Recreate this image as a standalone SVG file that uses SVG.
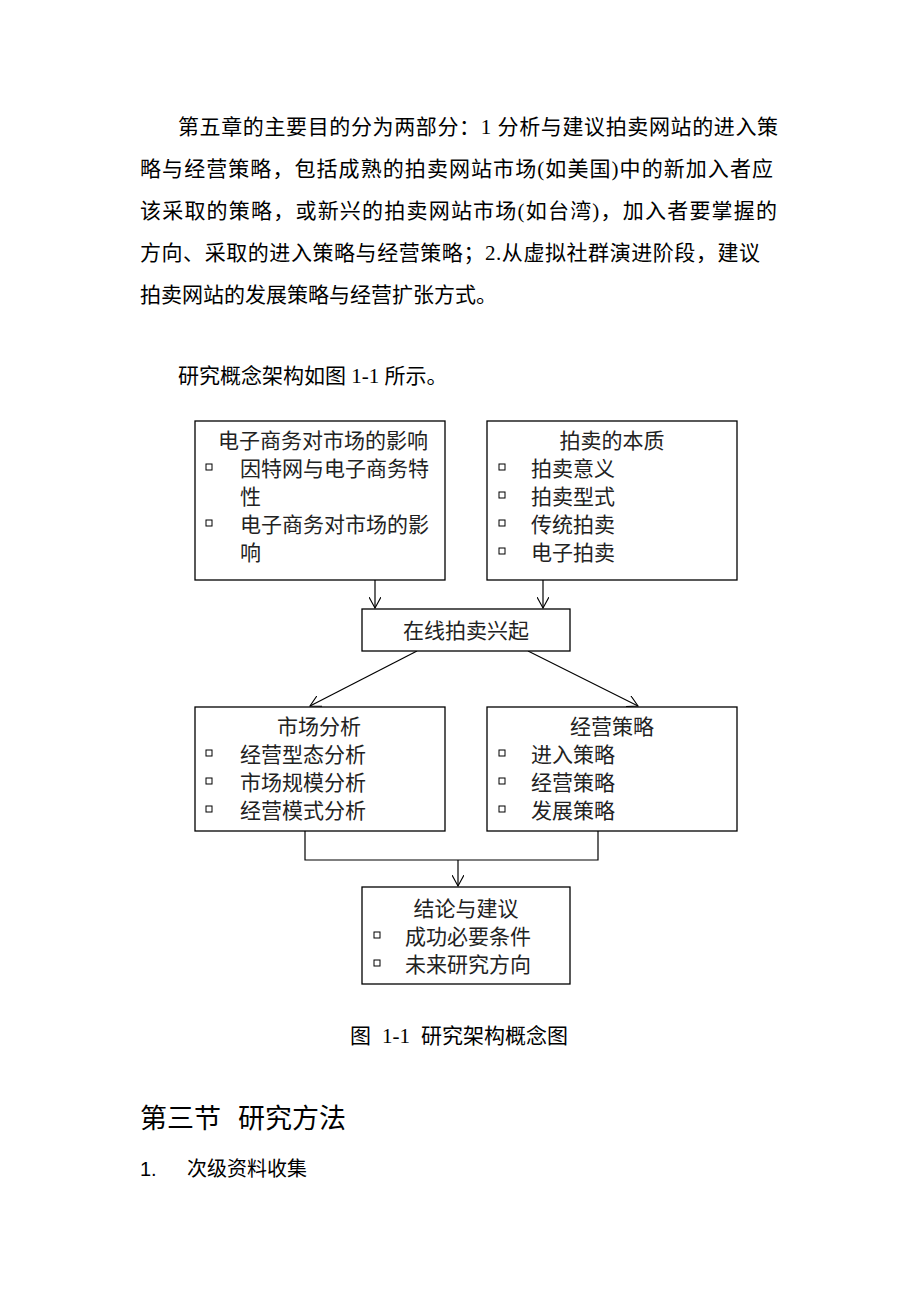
<svg xmlns="http://www.w3.org/2000/svg" width="920" height="1302" viewBox="0 0 920 1302">
<style>
.body{font-family:"Liberation Serif","Noto Sans CJK SC",serif;font-size:21px;fill:#000}
.bx{font-family:"Noto Sans CJK SC","Liberation Sans",sans-serif;font-size:21px;fill:#222}
.box{fill:#fff;stroke:#000;stroke-width:1.3}
.bul{fill:none;stroke:#000;stroke-width:1}
.ln{fill:none;stroke:#000;stroke-width:1.2}
.h{font-family:"Liberation Sans","Noto Sans CJK SC",sans-serif;fill:#000}
</style>
<defs>
<marker id="ar" viewBox="0 0 12 12" refX="11" refY="6" markerWidth="12" markerHeight="12" markerUnits="userSpaceOnUse" orient="auto">
<path d="M0,0 L11,6 L0,12" fill="none" stroke="#000" stroke-width="1.1"/>
</marker>
</defs>
<rect width="920" height="1302" fill="#fff"/>
<g id="paragraph">
<text class="body" x="178" y="134" textLength="600" lengthAdjust="spacing">第五章的主要目的分为两部分：1 分析与建议拍卖网站的进入策</text>
<text class="body" x="140" y="176" textLength="633" lengthAdjust="spacing">略与经营策略，包括成熟的拍卖网站市场(如美国)中的新加入者应</text>
<text class="body" x="140" y="218" textLength="637" lengthAdjust="spacing">该采取的策略，或新兴的拍卖网站市场(如台湾)，加入者要掌握的</text>
<text class="body" x="140" y="260" textLength="620" lengthAdjust="spacing">方向、采取的进入策略与经营策略；2.从虚拟社群演进阶段，建议</text>
<text class="body" x="140" y="302">拍卖网站的发展策略与经营扩张方式。</text>
<text class="body" x="178" y="383">研究概念架构如图 1-1 所示。</text>
</g>
<g id="connectors">
<line class="ln" x1="375" y1="580" x2="375" y2="608" marker-end="url(#ar)"/>
<line class="ln" x1="543" y1="580" x2="543" y2="608" marker-end="url(#ar)"/>
<line class="ln" x1="417" y1="651" x2="310" y2="706" marker-end="url(#ar)"/>
<line class="ln" x1="528" y1="651" x2="638" y2="706" marker-end="url(#ar)"/>
<polyline class="ln" points="305,831 305,860 598,860 598,831"/>
<line class="ln" x1="458" y1="860" x2="458" y2="886" marker-end="url(#ar)"/>
</g>
<g id="node-ecommerce">
<rect class="box" x="195" y="421" width="250" height="159"/>
<text class="bx" x="323" y="448" text-anchor="middle">电子商务对市场的影响</text>
<rect class="bul" x="206" y="464" width="6" height="6"/>
<text class="bx" x="240" y="476">因特网与电子商务特</text>
<text class="bx" x="240" y="504">性</text>
<rect class="bul" x="206" y="520" width="6" height="6"/>
<text class="bx" x="240" y="532">电子商务对市场的影</text>
<text class="bx" x="240" y="560">响</text>
</g>
<g id="node-auction">
<rect class="box" x="487" y="421" width="250" height="159"/>
<text class="bx" x="612" y="448" text-anchor="middle">拍卖的本质</text>
<rect class="bul" x="499" y="464" width="6" height="6"/>
<text class="bx" x="531" y="476">拍卖意义</text>
<rect class="bul" x="499" y="492" width="6" height="6"/>
<text class="bx" x="531" y="504">拍卖型式</text>
<rect class="bul" x="499" y="520" width="6" height="6"/>
<text class="bx" x="531" y="532">传统拍卖</text>
<rect class="bul" x="499" y="548" width="6" height="6"/>
<text class="bx" x="531" y="560">电子拍卖</text>
</g>
<g id="node-online">
<rect class="box" x="362" y="609" width="208" height="42"/>
<text class="bx" x="466" y="638" text-anchor="middle">在线拍卖兴起</text>
</g>
<g id="node-market">
<rect class="box" x="195" y="707" width="250" height="124"/>
<text class="bx" x="319" y="734" text-anchor="middle">市场分析</text>
<rect class="bul" x="206" y="750" width="6" height="6"/>
<text class="bx" x="240" y="762">经营型态分析</text>
<rect class="bul" x="206" y="778" width="6" height="6"/>
<text class="bx" x="240" y="790">市场规模分析</text>
<rect class="bul" x="206" y="806" width="6" height="6"/>
<text class="bx" x="240" y="818">经营模式分析</text>
</g>
<g id="node-strategy">
<rect class="box" x="487" y="707" width="250" height="124"/>
<text class="bx" x="612" y="734" text-anchor="middle">经营策略</text>
<rect class="bul" x="499" y="750" width="6" height="6"/>
<text class="bx" x="531" y="762">进入策略</text>
<rect class="bul" x="499" y="778" width="6" height="6"/>
<text class="bx" x="531" y="790">经营策略</text>
<rect class="bul" x="499" y="806" width="6" height="6"/>
<text class="bx" x="531" y="818">发展策略</text>
</g>
<g id="node-conclusion">
<rect class="box" x="362" y="887" width="208" height="97"/>
<text class="bx" x="466" y="916" text-anchor="middle">结论与建议</text>
<rect class="bul" x="374" y="932" width="6" height="6"/>
<text class="bx" x="405" y="944">成功必要条件</text>
<rect class="bul" x="374" y="960" width="6" height="6"/>
<text class="bx" x="405" y="972">未来研究方向</text>
</g>
<g id="caption">
<text class="body" y="1043"><tspan x="350">图</tspan><tspan x="382">1-1</tspan><tspan x="421">研究架构概念图</tspan></text>
</g>
<g id="section">
<text class="h" y="1128" font-size="27"><tspan x="140">第三节</tspan><tspan x="238">研究方法</tspan></text>
<text class="h" y="1176" font-size="20"><tspan x="140">1.</tspan><tspan x="187">次级资料收集</tspan></text>
</g>
</svg>
